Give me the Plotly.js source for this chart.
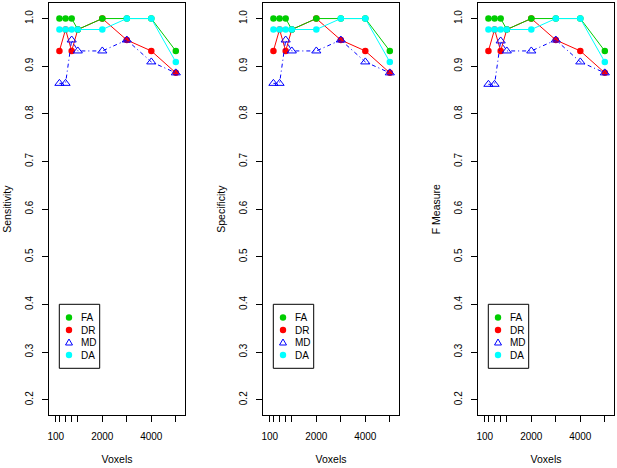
<!DOCTYPE html>
<html>
<head>
<meta charset="utf-8">
<script src="https://cdn.plot.ly/plotly-3.0.1.min.js"></script>
<style>html,body{margin:0;padding:0;background:#fff;}#chart{width:617px;height:468px;}</style>
</head>
<body>
<div id="chart"></div>
<script>
// ---- data ----
const voxels = [250, 500, 750, 1000, 2000, 3000, 4000, 5000];
const xTickVals = [100, 250, 500, 750, 1000, 2000, 3000, 4000, 5000];
const xTickText = ["100", "", "", "", "", "2000", "", "4000", ""];
const yTickVals = [0.2, 0.3, 0.4, 0.5, 0.6, 0.7, 0.8, 0.9, 1.0];
const yTickText = ["0.2", "0.3", "0.4", "0.5", "0.6", "0.7", "0.8", "0.9", "1.0"];
const seriesNames = ["FA", "DR", "MD", "DA"];
const panelTitles = ["Sensitivity", "Specificity", "F Measure"];

const sensFA = [1.0, 1.0, 1.0, 0.977, 1.0, 1.0, 1.0, 0.932];
const sensDR = [0.932, 0.977, 0.932, 0.977, 1.0, 0.955, 0.932, 0.886];
const sensMD = [0.864, 0.864, 0.955, 0.932, 0.932, 0.955, 0.909, 0.886];
const sensDA = [0.977, 0.977, 0.977, 0.977, 0.977, 1.0, 1.0, 0.909];

const specFA = [1.0, 1.0, 1.0, 0.977, 1.0, 1.0, 1.0, 0.932];
const specDR = [0.932, 0.977, 0.932, 0.977, 1.0, 0.955, 0.932, 0.886];
const specMD = [0.864, 0.864, 0.955, 0.932, 0.932, 0.955, 0.909, 0.886];
const specDA = [0.977, 0.977, 0.977, 0.977, 0.977, 1.0, 1.0, 0.909];

const fmFA = [1.0, 1.0, 1.0, 0.977, 1.0, 1.0, 1.0, 0.932];
const fmDR = [0.932, 0.977, 0.932, 0.977, 1.0, 0.955, 0.932, 0.886];
const fmMD = [0.862, 0.862, 0.953, 0.932, 0.932, 0.955, 0.909, 0.886];
const fmDA = [0.977, 0.977, 0.977, 0.977, 0.977, 1.0, 1.0, 0.909];

// ---- styling ----
const W = 617, H = 468;
const FONT = "Liberation Sans, Arial, Helvetica, sans-serif";
const colors = {FA: "#00CD00", DR: "#FF0000", MD: "#0000FF", DA: "#00FFFF"};
const panels = [
  {FA: sensFA, DR: sensDR, MD: sensMD, DA: sensDA},
  {FA: specFA, DR: specDR, MD: specMD, DA: specDA},
  {FA: fmFA, DR: fmDR, MD: fmMD, DA: fmDA}
];
const panelLeft = [49.3, 263.3, 478.3];
const panelWidth = 135.4;
const plotTop = 3.3, plotBottom = 415;

const px = v => v / W;
const py = v => 1 - v / H;

const traces = [];
const drawOrder = ["DR", "FA", "MD", "DA"];
panels.forEach((p, i) => {
  const xa = i === 0 ? "x" : "x" + (i + 1);
  const ya = i === 0 ? "y" : "y" + (i + 1);
  drawOrder.forEach(name => {
    const isMD = name === "MD";
    traces.push({
      type: "scatter",
      mode: "lines+markers",
      name: name,
      x: voxels,
      y: p[name],
      xaxis: xa, yaxis: ya,
      showlegend: false,
      line: {color: colors[name], width: 1, dash: isMD ? "4px,3px,1px,3px" : "solid"},
      marker: isMD
        ? {symbol: "triangle-up-open", size: 8, color: colors[name], line: {width: 1, color: colors[name]}}
        : {symbol: "circle", size: 6.5, color: colors[name], line: {width: 0}},
      hoverinfo: "x+y+name"
    });
  });
});

const layout = {
  width: W, height: H,
  margin: {l: 0, r: 0, t: 0, b: 0},
  paper_bgcolor: "#fff", plot_bgcolor: "#fff",
  font: {family: FONT, size: 10, color: "#000"},
  showlegend: false,
  shapes: [], annotations: []
};

panels.forEach((p, i) => {
  const sfx = i === 0 ? "" : String(i + 1);
  const L = panelLeft[i];
  layout["xaxis" + sfx] = {
    domain: [px(L), px(L + panelWidth)],
    anchor: "y" + sfx,
    range: [-163, 5363],
    tickmode: "array", tickvals: xTickVals, ticktext: xTickText,
    ticks: "outside", ticklen: 6, tickwidth: 1, tickcolor: "#000",
    showgrid: false, zeroline: false,
    showline: true, mirror: true, linecolor: "#000", linewidth: 1,
    ticklabelstandoff: 6,
    tickfont: {size: 10, family: FONT},
    title: {text: "Voxels", font: {size: 10.5, family: FONT}, standoff: 14}
  };
  layout["yaxis" + sfx] = {
    domain: [py(plotBottom), py(plotTop)],
    anchor: "x" + sfx,
    range: [0.168, 1.032],
    tickmode: "array", tickvals: yTickVals, ticktext: yTickText,
    tickangle: -90,
    ticks: "outside", ticklen: 6, tickwidth: 1, tickcolor: "#000",
    showgrid: false, zeroline: false,
    showline: true, mirror: true, linecolor: "#000", linewidth: 1,
    ticklabelstandoff: 5,
    tickfont: {size: 10, family: FONT},
    title: {text: panelTitles[i], font: {size: 10.5, family: FONT}, standoff: 10}
  };

  // manual legend box (R-style, tight spacing)
  layout.shapes.push({
    type: "rect", xref: "paper", yref: "paper",
    x0: px(L + 10), x1: px(L + 50.4), y0: py(368.3), y1: py(304.3),
    line: {color: "#000", width: 1}, fillcolor: "#fff", layer: "above"
  });
  const rows = [317.5, 330, 342.5, 355];
  seriesNames.forEach((name, k) => {
    const cx = px(L + 19.7), cy = py(rows[k]);
    if (name === "MD") {
      layout.shapes.push({
        type: "path", xref: "paper", yref: "paper",
        xsizemode: "pixel", ysizemode: "pixel", xanchor: cx, yanchor: cy,
        path: "M -3.5,-2.5 L 3.5,-2.5 L 0,3.5 Z",
        line: {color: colors[name], width: 1}, fillcolor: "rgba(0,0,0,0)", layer: "above"
      });
    } else {
      layout.shapes.push({
        type: "circle", xref: "paper", yref: "paper",
        xsizemode: "pixel", ysizemode: "pixel", xanchor: cx, yanchor: cy,
        x0: -3.2, x1: 3.2, y0: -3.2, y1: 3.2,
        line: {width: 0, color: colors[name]}, fillcolor: colors[name], layer: "above"
      });
    }
    layout.annotations.push({
      xref: "paper", yref: "paper", x: px(L + 29.2), y: cy,
      xanchor: "left", yanchor: "middle", showarrow: false,
      text: name, font: {size: 10, family: FONT, color: "#000"}
    });
  });
});

Plotly.newPlot("chart", traces, layout, {staticPlot: true, displayModeBar: false});
</script>
</body>
</html>
